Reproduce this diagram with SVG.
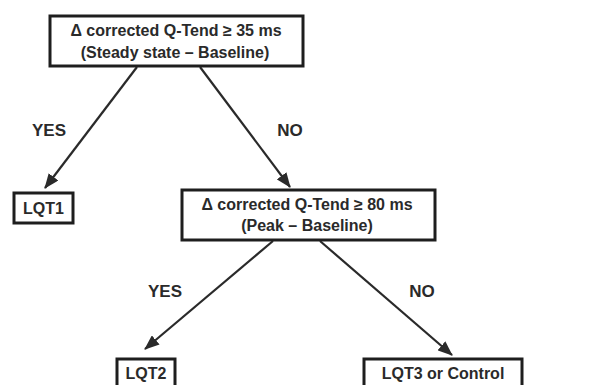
<svg xmlns="http://www.w3.org/2000/svg" width="594" height="385" viewBox="0 0 594 385">
<defs>
<style>
.box{fill:#fff;stroke:#1e1e1e;stroke-width:3}
.t{font-family:"Liberation Sans",Arial,sans-serif;font-weight:bold;fill:#2a2a2a;text-anchor:middle}
.lbl{font-size:17px}
.bt{font-size:16px}
.ln{stroke:#2a2a2a;stroke-width:2.2;fill:none;marker-end:url(#ah)}
</style>
<marker id="ah" viewBox="0 0 15 12" refX="14" refY="6" markerWidth="15" markerHeight="12" markerUnits="userSpaceOnUse" orient="auto">
<path d="M0,0 L15,6 L0,12 z" fill="#2a2a2a"/>
</marker>
</defs>
<rect width="594" height="385" fill="#fff"/>
<g id="connectors">
<line class="ln" x1="137" y1="67" x2="45" y2="188"/>
<line class="ln" x1="200" y1="67" x2="290" y2="187"/>
<line class="ln" x1="273" y1="241" x2="145" y2="349"/>
<line class="ln" x1="320" y1="241" x2="452" y2="355"/>
<text class="t lbl" x="49" y="136">YES</text>
<text class="t lbl" x="290" y="136">NO</text>
<text class="t lbl" x="165" y="297">YES</text>
<text class="t lbl" x="422" y="297">NO</text>
</g>
<g id="q1">
<rect class="box" x="50" y="16" width="253" height="50"/>
<text class="t bt" x="176" y="36">Δ corrected Q-Tend ≥ 35 ms</text>
<text class="t bt" x="175" y="58">(Steady state – Baseline)</text>
</g>
<g id="lqt1">
<rect class="box" x="14" y="193" width="59" height="30"/>
<text class="t bt" x="43.5" y="214">LQT1</text>
</g>
<g id="q2">
<rect class="box" x="182" y="190" width="253" height="50"/>
<text class="t bt" x="307" y="210">Δ corrected Q-Tend ≥ 80 ms</text>
<text class="t bt" x="307" y="231">(Peak – Baseline)</text>
</g>
<g id="lqt2">
<rect class="box" x="117" y="359" width="58" height="34"/>
<text class="t bt" x="146" y="379">LQT2</text>
</g>
<g id="lqt3">
<rect class="box" x="364" y="359" width="158" height="34"/>
<text class="t bt" x="443" y="379">LQT3 or Control</text>
</g>
</svg>
